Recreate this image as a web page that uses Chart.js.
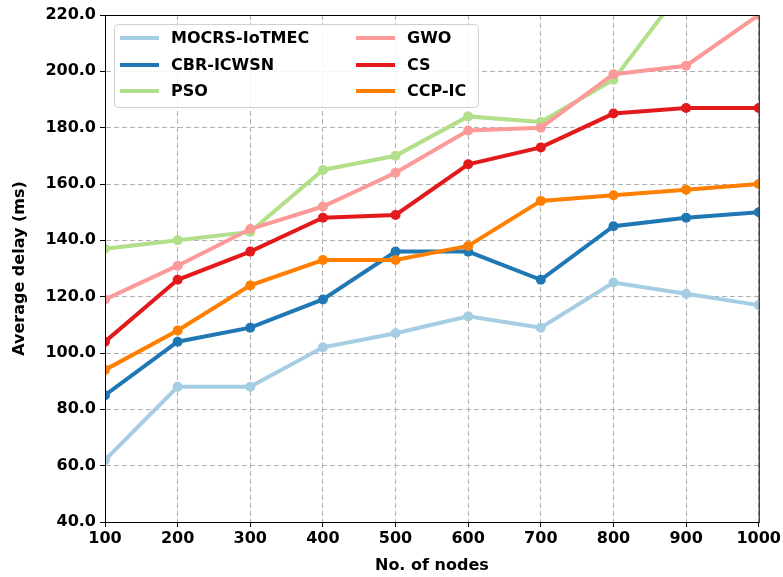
<!DOCTYPE html>
<html>
<head>
<meta charset="utf-8">
<script src="https://cdn.jsdelivr.net/npm/chart.js@4.4.1/dist/chart.umd.min.js"></script>
<style>
  html, body { margin: 0; padding: 0; background: #fff; }
  #wrap { width: 783px; height: 577px; }
</style>
</head>
<body>
<div id="wrap"><canvas id="delayChart" width="783" height="577"></canvas></div>
<script>
// x values (number of nodes)
const nodes = [100, 200, 300, 400, 500, 600, 700, 800, 900, 1000];

// average delay (ms) per scheme
const mocrs = [62, 88, 88, 102, 107, 113, 109, 125, 121, 117];
const cbr = [85, 104, 109, 119, 136, 136, 126, 145, 148, 150];
const pso = [137, 140, 143, 165, 170, 184, 182, 197, 231, 248];
const gwo = [119, 131, 144, 152, 164, 179, 180, 199, 202, 220];
const cs = [104, 126, 136, 148, 149, 167, 173, 185, 187, 187];
const ccp = [94, 108, 124, 133, 133, 138, 154, 156, 158, 160];

const seriesNames = ['MOCRS-IoTMEC', 'CBR-ICWSN', 'PSO', 'GWO', 'CS', 'CCP-IC'];
const seriesValues = [mocrs, cbr, pso, gwo, cs, ccp];
const seriesColors = ['#a6cee3', '#1f78b4', '#b2df8a', '#fb9a99', '#e31a1c', '#ff7f00'];

const yTicks = [40, 60, 80, 100, 120, 140, 160, 180, 200, 220];
const xTicks = nodes;

const FONT = 'DejaVu Sans';

const datasets = seriesValues.map(function (vals, i) {
  return {
    label: seriesNames[i],
    data: vals.map(function (v, j) { return { x: nodes[j], y: v }; }),
    borderColor: seriesColors[i],
    backgroundColor: seriesColors[i],
    borderWidth: 4,
    pointRadius: 5,
    pointBorderWidth: 0,
    pointHoverRadius: 5,
    tension: 0,
    order: seriesNames.length - i   // later series drawn on top
  };
});

// black frame around the plot area
const framePlugin = {
  id: 'frame',
  afterDraw(chart) {
    const a = chart.chartArea;
    const ctx = chart.ctx;
    ctx.save();
    ctx.strokeStyle = '#000';
    ctx.lineWidth = 1;
    ctx.strokeRect(a.left + 0.5, a.top + 0.5, a.right - a.left, a.bottom - a.top);
    ctx.restore();
  }
};

// two-column legend box inside the plot, top left
const boxLegend = {
  id: 'boxLegend',
  afterDraw(chart) {
    const ctx = chart.ctx;
    const ds = chart.data.datasets;
    const x0 = 114, y0 = 24, w = 364, h = 83;
    ctx.save();
    ctx.fillStyle = 'rgba(255,255,255,0.85)';
    ctx.strokeStyle = '#d0d0d0';
    ctx.lineWidth = 1;
    ctx.beginPath();
    ctx.roundRect(x0 + 0.5, y0 + 0.5, w, h, 4);
    ctx.fill();
    ctx.stroke();

    const cols = [{ line: 120, text: 171 }, { line: 356, text: 407 }];
    const rows = [38, 65, 91];
    ctx.font = 'bold 16px ' + FONT;
    ctx.textBaseline = 'middle';
    ds.forEach(function (d, i) {
      const c = cols[Math.floor(i / 3)];
      const y = rows[i % 3];
      ctx.strokeStyle = d.borderColor;
      ctx.lineWidth = 4;
      ctx.beginPath();
      ctx.moveTo(c.line, y);
      ctx.lineTo(c.line + 39, y);
      ctx.stroke();
      ctx.fillStyle = '#000';
      ctx.fillText(d.label, c.text, y + 1);
    });
    ctx.restore();
  }
};

const gridStyle = {
  color: '#b0b0b0',
  lineWidth: 1,
  tickColor: '#000',
  tickBorderDash: [],
  tickLength: 5,
  drawOnChartArea: true
};

const borderStyle = { display: true, color: '#000', width: 1, dash: [5, 3] };

new Chart(document.getElementById('delayChart'), {
  type: 'line',
  data: { datasets: datasets },
  options: {
    responsive: false,
    animation: false,
    layout: { padding: { top: 15, right: 24, bottom: 0, left: 0 } },
    plugins: {
      legend: { display: false },
      tooltip: { enabled: false }
    },
    scales: {
      x: {
        type: 'linear',
        min: 100,
        max: 1000,
        afterBuildTicks(scale) {
          scale.ticks = xTicks.map(function (v) { return { value: v }; });
        },
        afterFit(scale) { scale.height = 55; },
        grid: gridStyle,
        border: borderStyle,
        ticks: {
          color: '#000',
          padding: 2,
          maxRotation: 0,
          font: { family: FONT, size: 16, weight: 'bold' },
          callback: function (v) { return String(v); }
        },
        title: {
          display: true,
          text: 'No. of nodes',
          color: '#000',
          padding: { top: 0, bottom: 2 },
          font: { family: FONT, size: 16, weight: 'bold' }
        }
      },
      y: {
        min: 40,
        max: 220,
        afterBuildTicks(scale) {
          scale.ticks = yTicks.map(function (v) { return { value: v }; });
        },
        afterFit(scale) { scale.width = 105; },
        grid: gridStyle,
        border: borderStyle,
        ticks: {
          color: '#000',
          padding: 4,
          font: { family: FONT, size: 16, weight: 'bold' },
          callback: function (v) { return v.toFixed(1); }
        },
        title: {
          display: true,
          text: 'Average delay (ms)',
          color: '#000',
          padding: { top: 10, bottom: 4 },
          font: { family: FONT, size: 16, weight: 'bold' }
        }
      }
    }
  },
  plugins: [framePlugin, boxLegend]
});
</script>
</body>
</html>
